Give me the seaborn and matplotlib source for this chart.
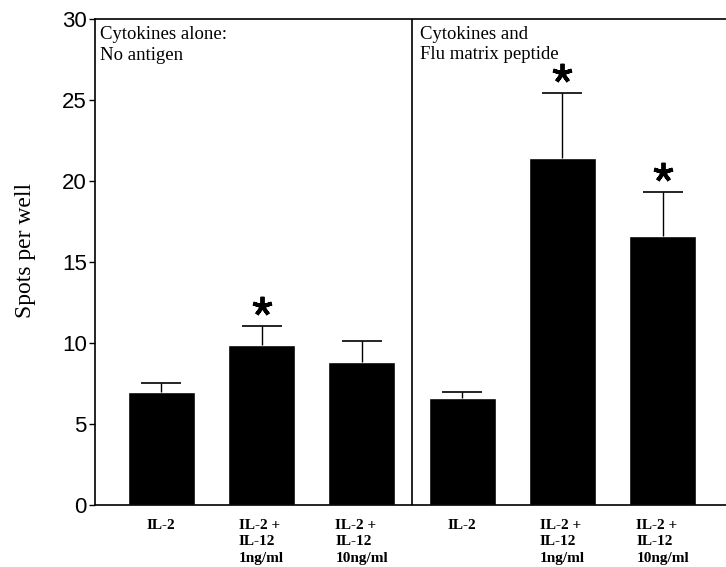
import matplotlib
matplotlib.use("Agg")
import matplotlib.pyplot as plt
import seaborn as sns
import pandas as pd

# ---- data ----
conditions = ["A_IL2", "A_IL2_IL12_1", "A_IL2_IL12_10",
              "F_IL2", "F_IL2_IL12_1", "F_IL2_IL12_10"]
tick_labels = ["IL-2", "IL-2 +\nIL-12\n1ng/ml", "IL-2 +\nIL-12\n10ng/ml",
               "IL-2", "IL-2 +\nIL-12\n1ng/ml", "IL-2 +\nIL-12\n10ng/ml"]
spots = [7.0, 9.88, 8.85, 6.58, 21.4, 16.6]
sem_upper = [0.55, 1.19, 1.27, 0.42, 4.05, 2.74]
significant = [False, True, False, False, True, True]
group_titles = ["Cytokines alone:\nNo antigen", "Cytokines and\nFlu matrix peptide"]
y_ticks = [0, 5, 10, 15, 20, 25, 30]

df = pd.DataFrame({"condition": conditions, "spots": spots})

sns.set_theme(style="white")
plt.rcParams["font.family"] = ["Liberation Sans", "DejaVu Sans"]
plt.rcParams["text.color"] = "black"

fig = plt.figure(figsize=(7.26, 5.67), dpi=100)
ax = fig.add_axes([95 / 726, 1 - 505 / 567, 1 - 95 / 726, (505 - 19) / 567])

sns.barplot(data=df, x="condition", y="spots", order=conditions,
            color="black", saturation=1, width=0.67, errorbar=None, ax=ax)

xs = list(range(len(conditions)))
tops = [v + e for v, e in zip(spots, sem_upper)]
ax.errorbar(xs, spots, yerr=[[0] * len(spots), sem_upper], fmt="none",
            ecolor="black", elinewidth=1.0, capsize=0)
ax.plot(xs, tops, ls="none", marker="_", markersize=29, mew=1.2, color="black")

sig_x = [x for x, s in zip(xs, significant) if s]
sig_y = [t + 1.2 for t, s in zip(tops, significant) if s]
ax.plot(sig_x, sig_y, ls="none", marker=(5, 2, 0), markersize=14,
        mew=2.8, color="black")

ax.axvline(2.5, color="black", lw=1.2)

ax.set_xlim(-0.66, 5.63)
ax.set_ylim(0, 30)
ax.set_yticks(y_ticks)
ax.set_yticklabels([str(t) for t in y_ticks], fontsize=16, color="black")
ax.set_xticks(xs)
ax.set_xticklabels(tick_labels, fontsize=11, fontweight="bold",
                   family="Liberation Serif", linespacing=1.35,
                   multialignment="left", color="black")
ax.tick_params(axis="x", length=0, pad=10)
ax.tick_params(axis="y", left=True, length=4, width=1, pad=2, colors="black")
ax.set_xlabel("")
ax.set_ylabel("")
fig.text(25 / 726, 1 - 250 / 567, "Spots per well", rotation=90,
         ha="center", va="center", fontsize=17, family="Liberation Serif",
         color="black")

for side in ["left", "bottom", "top"]:
    ax.spines[side].set_visible(True)
    ax.spines[side].set_color("black")
    ax.spines[side].set_linewidth(1.2)
ax.spines["right"].set_visible(False)

ax.text(0.008, 0.985, group_titles[0], transform=ax.transAxes, ha="left",
        va="top", fontsize=13.5, family="Liberation Serif", linespacing=1.25)
ax.text(2.58, 29.55, group_titles[1], ha="left", va="top",
        fontsize=13.5, family="Liberation Serif", linespacing=1.2)

fig.savefig("out.png", dpi=100)
